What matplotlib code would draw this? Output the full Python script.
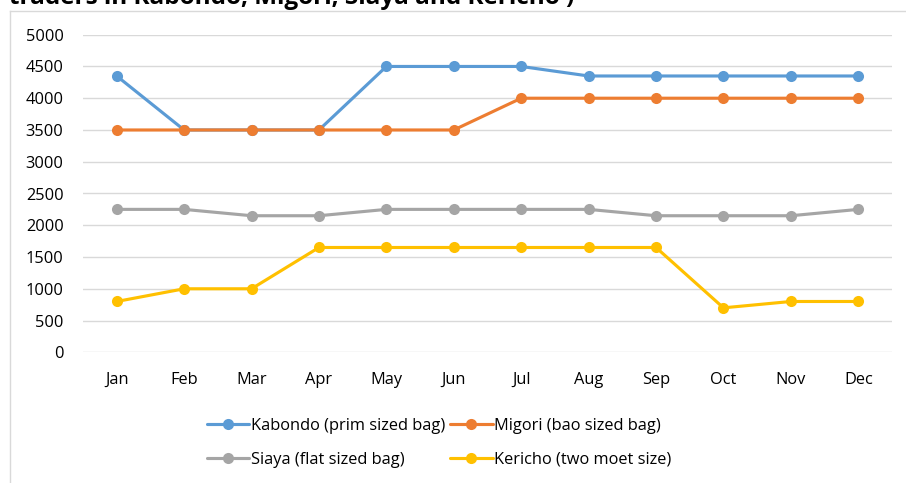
import matplotlib
matplotlib.use("Agg")
import matplotlib.pyplot as plt
from matplotlib.lines import Line2D

months = ["Jan", "Feb", "Mar", "Apr", "May", "Jun", "Jul", "Aug", "Sep", "Oct", "Nov", "Dec"]
kabondo = [4350, 3500, 3500, 3500, 4500, 4500, 4500, 4350, 4350, 4350, 4350, 4350]
migori = [3500, 3500, 3500, 3500, 3500, 3500, 4000, 4000, 4000, 4000, 4000, 4000]
siaya = [2250, 2250, 2150, 2150, 2250, 2250, 2250, 2250, 2150, 2150, 2150, 2250]
kericho = [800, 1000, 1000, 1650, 1650, 1650, 1650, 1650, 1650, 700, 800, 800]
series_labels = ["Kabondo (prim sized bag)", "Migori (bao sized bag)",
                 "Siaya (flat sized bag)", "Kericho (two moet size)"]
colors = ["#5B9BD5", "#ED7D31", "#A5A5A5", "#FFC000"]
yticks = [0, 500, 1000, 1500, 2000, 2500, 3000, 3500, 4000, 4500, 5000]
title = "traders in Kabondo, Migori, Siaya and Kericho )"

plt.rcParams['font.family'] = ['Open Sans', 'DejaVu Sans']

W, H = 906, 483
fig = plt.figure(figsize=(W / 100, H / 100), dpi=100)

left, right, top, bottom = 83, 892, 34.7, 352.3
ax = fig.add_axes([left / W, 1 - bottom / H, (right - left) / W, (bottom - top) / H])

x = list(range(len(months)))
handles = []
for vals, lab, c in zip([kabondo, migori, siaya, kericho], series_labels, colors):
    h, = ax.plot(x, vals, color=c, lw=2.25, marker='o', markersize=8,
                 markeredgewidth=0, label=lab, solid_capstyle='round', zorder=3)
    handles.append(h)

ax.set_xlim(-0.5, len(months) - 0.5)
ax.set_ylim(0, 5000)
ax.set_yticks(yticks)
ax.set_yticklabels([str(v) for v in yticks])
ax.set_xticks(x)
ax.set_xticklabels(months)
ax.grid(axis='y', color='#d9d9d9', lw=1, zorder=0)
ax.set_axisbelow(True)
for s in ax.spines.values():
    s.set_visible(False)
ax.tick_params(axis='both', length=0, labelsize=11.8, colors='#000000')
ax.tick_params(axis='y', pad=14)
ax.tick_params(axis='x', pad=14)

# legend (reorder to fill row-wise)
order = [0, 2, 1, 3]
leg = fig.legend([handles[i] for i in order], [series_labels[i] for i in order],
                 ncol=2, loc='upper left', bbox_to_anchor=(200 / W, 1 - 411 / H),
                 frameon=False, fontsize=11.8, handlelength=2.6, handletextpad=0.1,
                 columnspacing=0.3, labelspacing=1.1, borderaxespad=0)

# chart frame
fig.add_artist(Line2D([10 / W, 1], [1 - 10.5 / H, 1 - 10.5 / H], transform=fig.transFigure,
                      color='#d9d9d9', lw=1))
fig.add_artist(Line2D([10 / W, 10 / W], [0, 1 - 10.5 / H], transform=fig.transFigure,
                      color='#d9d9d9', lw=1))

# title (clipped at the top edge, as in the reference)
fig.text(9 / W, 1 - 4 / H, title, fontsize=17.5, fontweight='bold', ha='left',
         va='baseline', color='#000000')

fig.savefig("out.png", dpi=100)
